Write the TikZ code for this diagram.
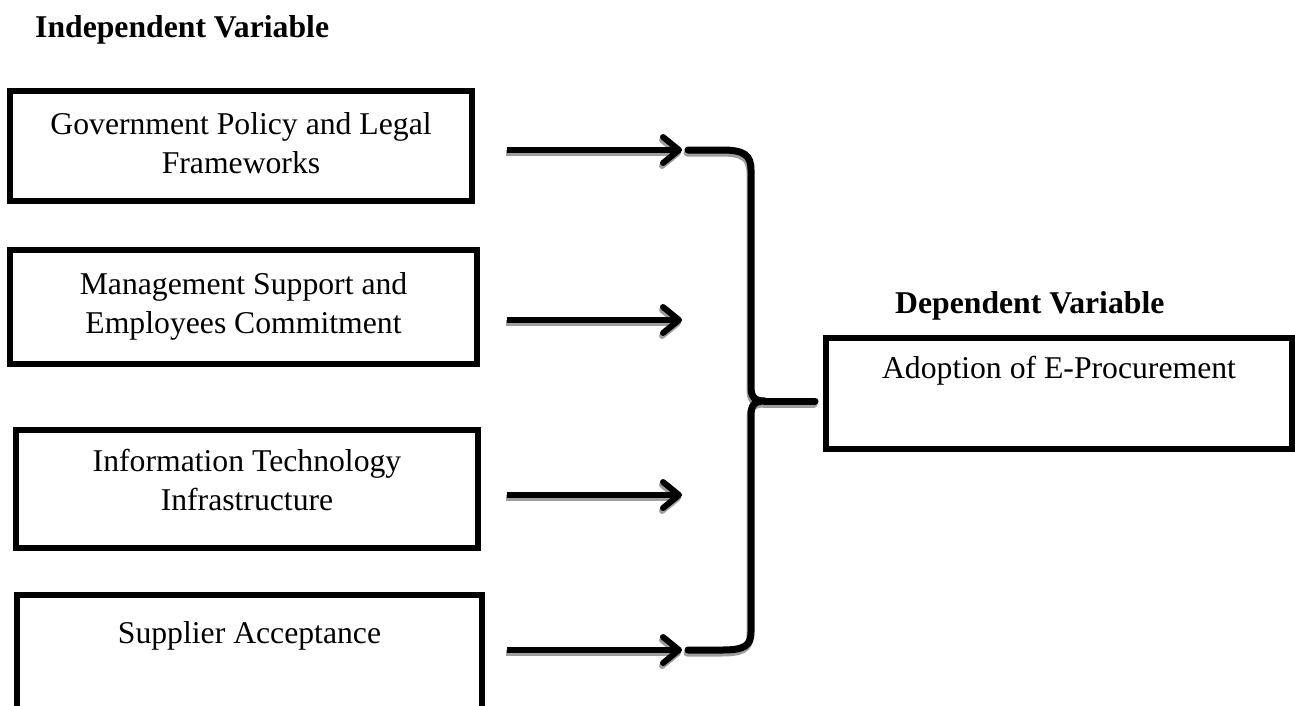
\documentclass[tikz,border=0pt]{standalone}
\usepackage{fontspec}
\setmainfont{Liberation Serif}
\usetikzlibrary{arrows.meta}

\tikzset{
  varbox/.style={draw, line width=5.5pt, inner sep=0pt, outer sep=0pt, align=center,
    font=\fontsize{31.7}{39}\selectfont},
  heading/.style={inner sep=0pt, anchor=base west, font=\fontsize{31.7}{39}\selectfont\bfseries},
  link/.style={line width=6pt, -{Straight Barb[round,length=16pt,width=26pt]}},
  brace/.style={line width=7pt, line cap=round, line join=round},
}

\begin{document}
\begin{tikzpicture}[x=1pt,y=-1pt]
  % colors
  \definecolor{kGrey}{rgb}{0.62,0.62,0.62}
  \useasboundingbox (0,0) rectangle (1295,705);
  % headings
  \node[heading] (indep) at (35,37) {Independent Variable};
  \node[heading] (dep) at (895,313) {Dependent Variable};
  % independent variables
  \node[varbox, minimum width=462pt, text height=82pt, text depth=28pt, anchor=north] (gov) at (241,91)
    {Government Policy and Legal\\Frameworks};
  \node[varbox, minimum width=467pt, text height=83pt, text depth=31pt, anchor=north] (mgt) at (243.5,250)
    {Management Support and\\Employees Commitment};
  \node[varbox, minimum width=462pt, text height=80pt, text depth=38pt, anchor=north] (ict) at (247,430)
    {Information Technology\\Infrastructure};
  \node[varbox, minimum width=465pt, text height=48pt, text depth=117pt, anchor=north] (sup) at (249.5,595)
    {Supplier Acceptance};
  % dependent variable
  \node[varbox, minimum width=466pt, text height=40pt, text depth=71pt, anchor=north] (adopt) at (1059,338)
    {Adoption of E-Procurement};
  % arrow ends
  \coordinate (s1) at (507,150);
  \coordinate (s2) at (507,320);
  \coordinate (s3) at (507,495);
  \coordinate (s4) at (507,650);
  \coordinate (t1) at (682,150);
  \coordinate (t2) at (682,320);
  \coordinate (t3) at (682,495);
  \coordinate (t4) at (682,650);
  % brace ends
  \coordinate (bt) at (688,150);
  \coordinate (bc) at (765,401);
  \coordinate (bm) at (815,401);
  \coordinate (bb) at (688,650);
  % arrows and brace, shadow first
  \foreach \col/\dx/\dy in {kGrey/-1/3, black/0/0} {
    \begin{scope}[transform canvas={shift={(\dx,\dy)}}, color=\col]
      \draw[link] (s1) -- (t1);
      \draw[link] (s2) -- (t2);
      \draw[link] (s3) -- (t3);
      \draw[link] (s4) -- (t4);
      \draw[brace] (bt) -- (722,150) .. controls (744,150) and (751,155) .. (751,170)
        -- (751,386) .. controls (751,397) and (754,401) .. (bc)
        .. controls (754,401) and (751,405) .. (751,416)
        -- (751,632) .. controls (751,646) and (744,650) .. (722,650) -- (bb);
      \draw[brace] (bc) -- (bm);
    \end{scope}
  }
\end{tikzpicture}
\end{document}
